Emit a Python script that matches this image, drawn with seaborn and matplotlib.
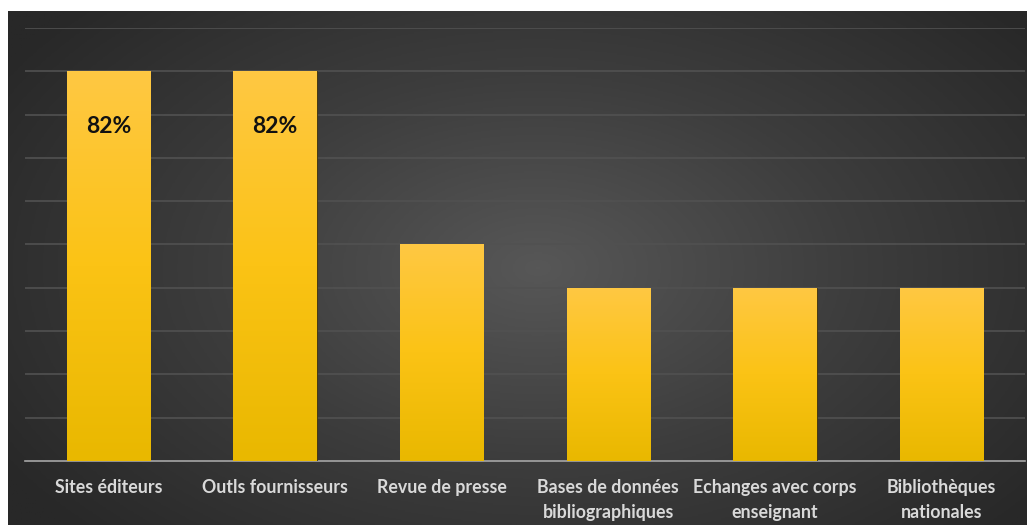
import numpy as np
import pandas as pd
import matplotlib
matplotlib.use("Agg")
import matplotlib.pyplot as plt
import seaborn as sns
from matplotlib.colors import LinearSegmentedColormap

# Survey: sources used to keep up with new publications
categories = [
    "Sites éditeurs",
    "Outls fournisseurs",
    "Revue de presse",
    "Bases de données\nbibliographiques",
    "Echanges avec corps\nenseignant",
    "Bibliothèques\nnationales",
]
counts = [18, 18, 10, 8, 8, 8]
respondents = 22
labelled = [True, True, False, False, False, False]

sns.set_theme(style="white")
plt.rcParams["font.family"] = ["Lato", "DejaVu Sans"]

W, H = 1027, 525
fig = plt.figure(figsize=(W / 100, H / 100), dpi=100)
fig.patch.set_facecolor("white")

# radial grey backdrop
bg = fig.add_axes([8 / W, 0, 1 - 8 / W, 1 - 11 / H])
bg.set_axis_off()
yy, xx = np.mgrid[0:1:400j, 0:1:800j]
r = np.sqrt(((xx - 0.52) / 0.62) ** 2 + ((yy - 0.5) / 0.75) ** 2)
r = np.clip(r, 0, 1)
bg_cmap = LinearSegmentedColormap.from_list("bg", ["#575757", "#3d3d3d", "#282828"])
bg.imshow(r, cmap=bg_cmap, aspect="auto", extent=(0, 1, 0, 1), origin="lower", vmin=0, vmax=1)
bg.set_xlim(0, 1)
bg.set_ylim(0, 1)

ax = fig.add_axes([25 / W, (H - 461) / H, 1000 / W, (461 - 28) / H])
ax.patch.set_alpha(0)

df = pd.DataFrame({"source": categories, "count": counts})
sns.barplot(data=df, x="source", y="count", color="#f7c100", width=0.5,
            saturation=1, ax=ax, zorder=3)

ax.set_ylim(0, 20)
ax.set_xlim(-0.5, len(categories) - 0.5)
ax.set_yticks(np.arange(2, 21, 2))
ax.yaxis.grid(True, color="#515151", linewidth=1.2, zorder=0)
ax.set_axisbelow(True)
ax.tick_params(axis="y", left=False, labelleft=False)
ax.tick_params(axis="x", bottom=False, pad=7)
for s in ["top", "right", "left"]:
    ax.spines[s].set_visible(False)
ax.spines["bottom"].set_color("#a6a6a6")
ax.spines["bottom"].set_linewidth(1.2)
ax.set_xlabel("")
ax.set_ylabel("")
for lbl in ax.get_xticklabels():
    lbl.set_color("#d9d9d9")
    lbl.set_fontweight("bold")
    lbl.set_fontsize(12.8)
    lbl.set_linespacing(1.55)

# golden vertical gradient inside each bar
grad = np.linspace(0, 1, 256).reshape(-1, 1)
bar_cmap = LinearSegmentedColormap.from_list("gold", ["#e9b800", "#fbc315", "#ffc843"])
for patch in ax.patches:
    x0, y0 = patch.get_x(), patch.get_y()
    w, h = patch.get_width(), patch.get_height()
    patch.set_edgecolor("#3a2e10")
    patch.set_linewidth(0.6)
    im = ax.imshow(grad, cmap=bar_cmap, aspect="auto", origin="lower",
                   extent=(x0, x0 + w, y0, y0 + h), zorder=4)
    im.set_clip_path(patch)

for i, (c, show) in enumerate(zip(counts, labelled)):
    if show:
        ax.text(i, c - 2.55, f"{round(100 * c / respondents)}%", ha="center", va="center",
                fontsize=16.5, fontweight="bold", color="#111111", zorder=5)

ax.set_xlim(-0.5, len(categories) - 0.5)
ax.set_ylim(0, 20)
fig.savefig("out.png", dpi=100, facecolor=fig.get_facecolor())
